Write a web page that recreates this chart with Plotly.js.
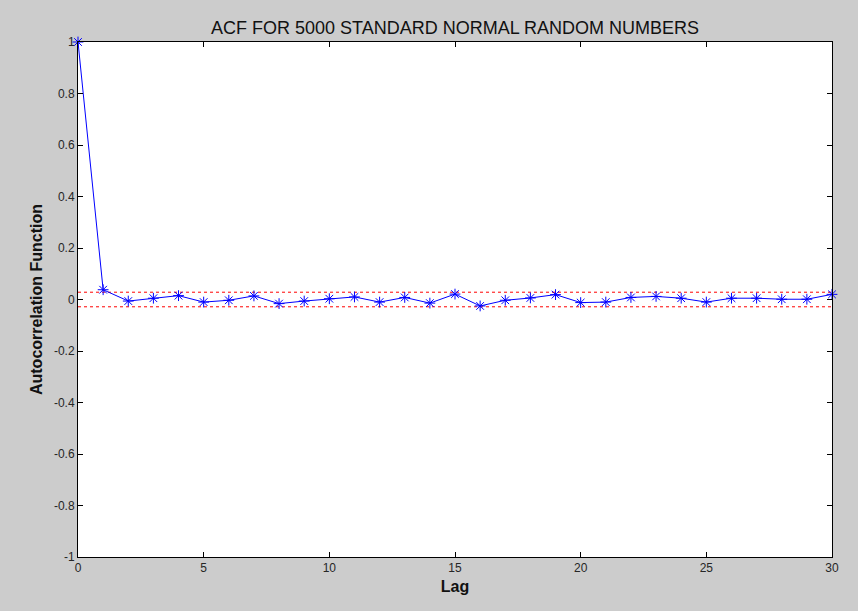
<!DOCTYPE html>
<html>
<head>
<meta charset="utf-8">
<script src="https://cdn.plot.ly/plotly-3.0.1.min.js"></script>
<style>html,body{margin:0;padding:0;background:#cccccc;}#chart{width:858px;height:611px;}</style>
</head>
<body>
<div id="chart"></div>
<script>
const lags = [0,1,2,3,4,5,6,7,8,9,10,11,12,13,14,15,16,17,18,19,20,21,22,23,24,25,26,27,28,29,30];
const acf = [1, 0.038, -0.006, 0.005, 0.015, -0.010, -0.003, 0.014, -0.016, -0.006,
  0.003, 0.010, -0.010, 0.008, -0.014, 0.021, -0.025, -0.003, 0.006, 0.019,
  -0.012, -0.010, 0.008, 0.012, 0.005, -0.010, 0.005, 0.005, 0.001, 0.001, 0.020];
const bound = 0.0283;
const boundX = [0, 30];
const xTicks = [0,5,10,15,20,25,30];
const yTicks = [-1,-0.8,-0.6,-0.4,-0.2,0,0.2,0.4,0.6,0.8,1];
const yTickText = ['-1','-0.8','-0.6','-0.4','-0.2','0','0.2','0.4','0.6','0.8','1'];

const traces = [
  {x: boundX, y: [bound, bound], mode: 'lines', line: {color: '#ff0000', width: 1, dash: 'dot'}, hoverinfo: 'skip'},
  {x: boundX, y: [-bound, -bound], mode: 'lines', line: {color: '#ff0000', width: 1, dash: 'dot'}, hoverinfo: 'skip'},
  {x: lags, y: acf, mode: 'lines+markers', line: {color: '#0000ff', width: 1},
   marker: {symbol: 'asterisk-open', size: 9, color: '#0000ff', line: {color: '#0000ff', width: 1}}, cliponaxis: false}
];

const axisCommon = {
  showgrid: false, zeroline: false, showline: true, mirror: 'ticks',
  linecolor: '#000', linewidth: 1, ticks: 'inside', ticklen: 5, tickcolor: '#000',
  tickfont: {family: 'Liberation Sans, Arial, sans-serif', size: 12, color: '#262626'}
};

const layout = {
  width: 858, height: 611,
  paper_bgcolor: '#cccccc', plot_bgcolor: '#ffffff',
  margin: {l: 78, r: 26, t: 42, b: 54},
  showlegend: false,
  title: {text: 'ACF FOR 5000 STANDARD NORMAL RANDOM NUMBERS', xref: 'paper', x: 0.5, xanchor: 'center', yref: 'container', y: 0.954, yanchor: 'middle',
    font: {family: 'Liberation Sans, Arial, sans-serif', size: 18, color: '#111'}},
  xaxis: Object.assign({}, axisCommon, {range: [0, 30], tickvals: xTicks, ticktext: xTicks.map(String),
    title: {text: '<b>Lag</b>', standoff: 6, font: {family: 'Liberation Sans, Arial, sans-serif', size: 16, color: '#111'}}}),
  yaxis: Object.assign({}, axisCommon, {range: [-1, 1], tickvals: yTicks, ticktext: yTickText,
    title: {text: '<b>Autocorrelation Function</b>', standoff: 7, font: {family: 'Liberation Sans, Arial, sans-serif', size: 16, color: '#111'}}})
};

Plotly.newPlot('chart', traces, layout, {displayModeBar: false, staticPlot: true});
</script>
</body>
</html>
